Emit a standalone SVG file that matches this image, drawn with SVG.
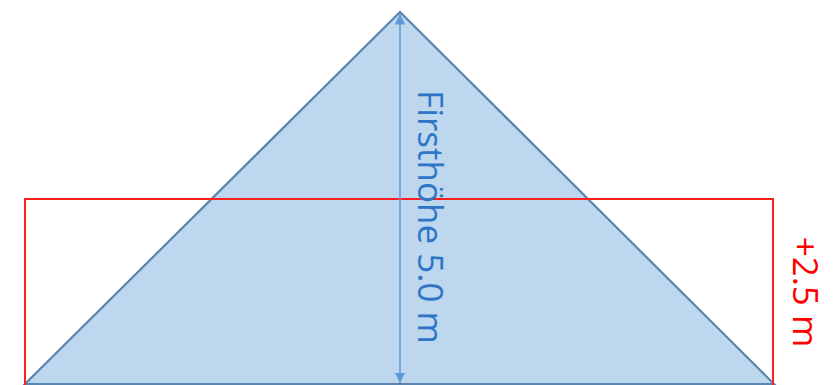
<svg xmlns="http://www.w3.org/2000/svg" width="833" height="385" viewBox="0 0 833 385">
<style>
.lbl{font-family:"Open Sans","Liberation Sans",sans-serif;font-size:35px;text-anchor:middle}
</style>
<defs>
<marker id="ah" viewBox="0 0 10 10" refX="10" refY="5" markerWidth="7" markerHeight="7" orient="auto-start-reverse"><path d="M0,0 L10,5 L0,10 z" fill="#5B9BD5"/></marker>
</defs>
<rect width="833" height="385" fill="#ffffff"/>
<g id="roof">
<polygon points="400,12 25,384 774,384" fill="#BDD7EE" stroke="#5A85AE" stroke-width="2.2"/>
</g>
<g id="box">
<rect x="25" y="199" width="748" height="190" fill="none" stroke="#FF2020" stroke-width="2"/>
</g>
<g id="connectors">
<line x1="400" y1="14" x2="400" y2="383" stroke="#5B9BD5" stroke-width="1.5" marker-start="url(#ah)" marker-end="url(#ah)"/>
</g>
<g id="labels">
<text class="lbl" transform="translate(418,217) rotate(90)" fill="#2E75C6">Firsthöhe 5.0 m</text>
<text class="lbl" transform="translate(793,292) rotate(90)" fill="#FF0000">+2.5 m</text>
</g>
</svg>
